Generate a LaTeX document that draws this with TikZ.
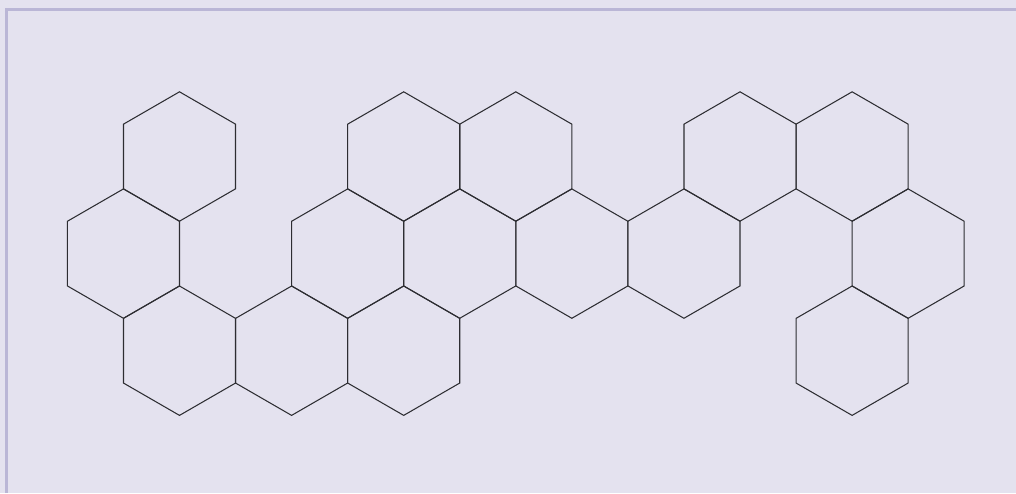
\documentclass[tikz,border=0pt]{standalone}
\usepackage{tikz}
\usetikzlibrary{shapes.geometric}
\definecolor{paper}{RGB}{228,226,239}
\definecolor{frameline}{RGB}{186,182,214}
\definecolor{hexline}{RGB}{45,45,50}

\begin{document}
\begin{tikzpicture}[
  x=0.02cm, y=-0.02cm,
  hexcell/.style={draw=hexline, line width=0.6pt, regular polygon,
    regular polygon sides=6, regular polygon rotate=30,
    minimum size=2.588cm, inner sep=0pt, outer sep=0pt}
]

% background and frame
\fill[paper] (0,0) rectangle (1016,493);
\useasboundingbox (0,0) rectangle (1016,493);
\draw[frameline, line width=1.7pt] (6.5,493) -- (6.5,9.5) -- (1016,9.5);

% top row
\foreach \k in {0,2,3,5,6} {
  \node[hexcell] (top\k) at ({179.5+\k*112.1},156.5) {};
}

% middle row
\foreach \k in {0,2,3,4,5,7} {
  \node[hexcell] (mid\k) at ({123.45+\k*112.1},253.6) {};
}

% bottom row
\foreach \k in {0,1,2,6} {
  \node[hexcell] (bot\k) at ({179.5+\k*112.1},350.7) {};
}

\end{tikzpicture}
\end{document}
